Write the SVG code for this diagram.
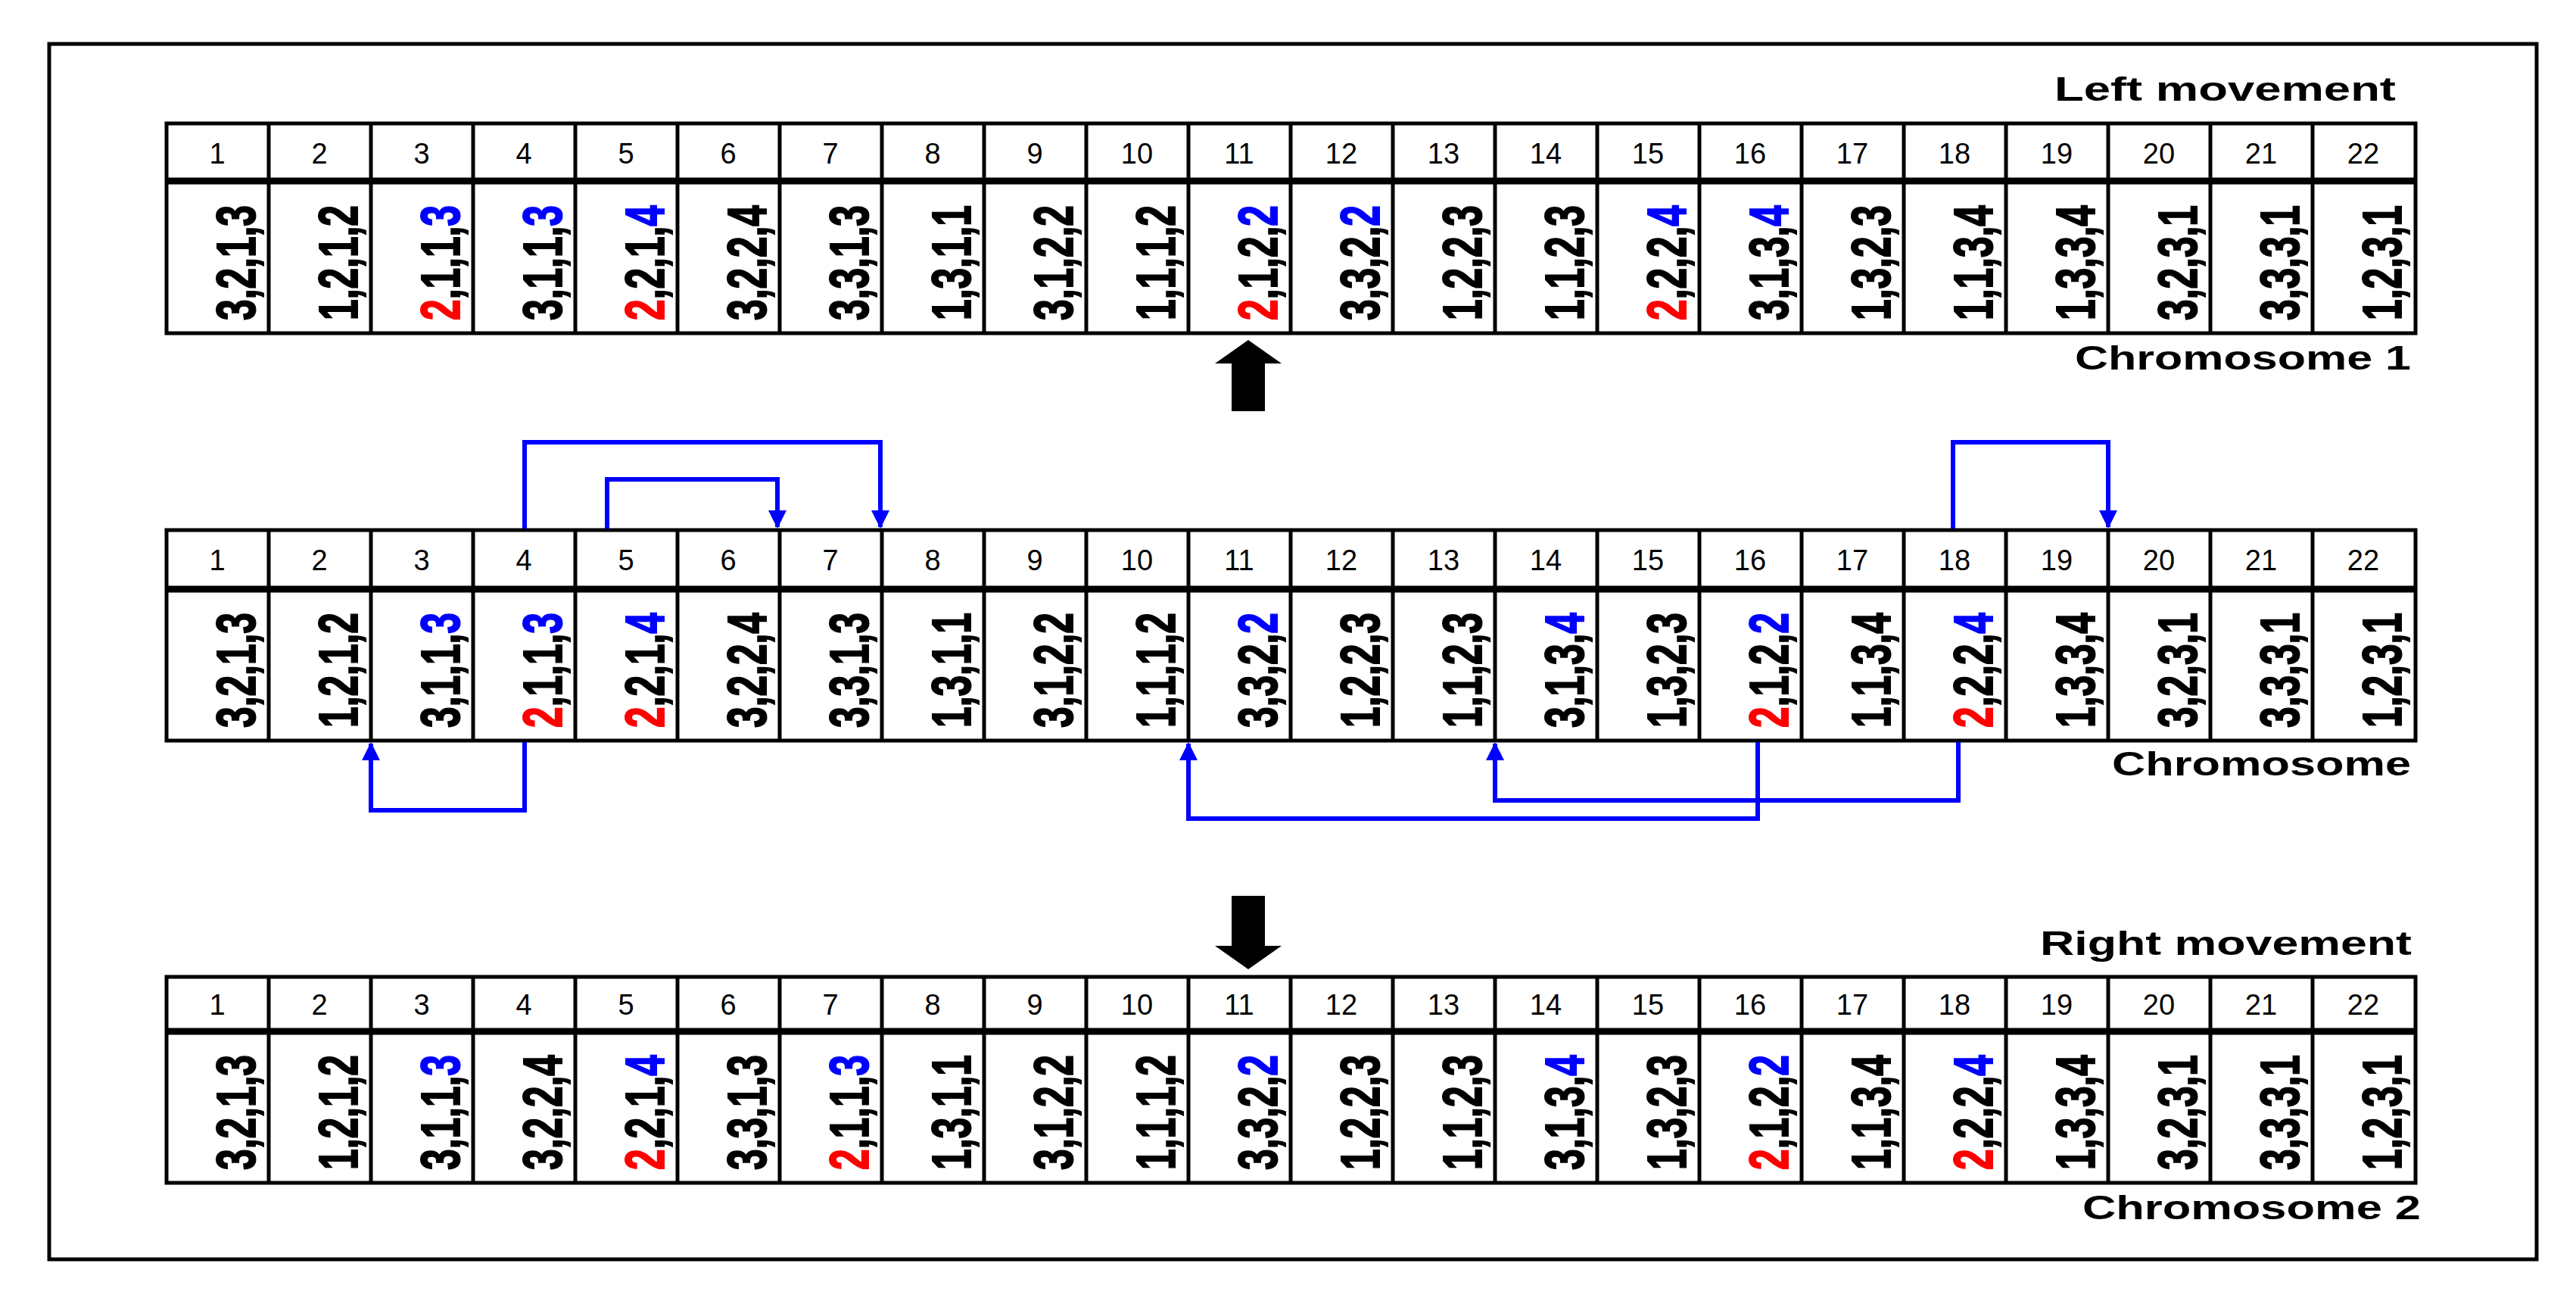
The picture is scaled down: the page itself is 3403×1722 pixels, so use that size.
<svg xmlns="http://www.w3.org/2000/svg" width="3403" height="1722" viewBox="0 0 3403 1722">
<style>
.g{fill:none;stroke:#000;stroke-width:5}
.sep{stroke:#000;stroke-width:9}
.h{font-family:"Liberation Sans Narrow","Liberation Sans",sans-serif;font-size:38px;text-anchor:middle;fill:#000}
.v{font-family:"Liberation Sans",sans-serif;font-weight:bold;font-size:72px;fill:#000;stroke:#000;stroke-width:2}
.r{fill:#ff0000;stroke:#ff0000}.b{fill:#0000ff;stroke:#0000ff}
.lb{font-family:"Liberation Sans",sans-serif;font-weight:bold;font-size:44px;text-anchor:end;fill:#000}
.c{fill:none;stroke:#0000ff;stroke-width:6}
</style>
<defs>
<marker id="ah" markerUnits="userSpaceOnUse" markerWidth="24" markerHeight="24" viewBox="0 0 24 24" refX="22" refY="12" orient="auto"><path d="M0,0 L24,12 L0,24 Z" fill="#0000ff"/></marker>
</defs>
<rect x="65" y="58" width="3286" height="1605" fill="#fff" stroke="#000" stroke-width="5"/>
<g id="chromosome1">
<text class="lb" x="3165" y="133" textLength="451" lengthAdjust="spacingAndGlyphs">Left movement</text>
<text class="lb" x="3185" y="488" textLength="444" lengthAdjust="spacingAndGlyphs">Chromosome 1</text>
</g>
<g id="chromosome">
<text class="lb" x="3185" y="1024" textLength="395" lengthAdjust="spacingAndGlyphs">Chromosome</text>
</g>
<g id="chromosome2">
<text class="lb" x="3186" y="1261" textLength="491" lengthAdjust="spacingAndGlyphs">Right movement</text>
<text class="lb" x="3198" y="1610" textLength="447" lengthAdjust="spacingAndGlyphs">Chromosome 2</text>
</g>
<g id="t1">
<rect class="g" x="220" y="163" width="2971" height="277"/><line class="sep" x1="220" y1="239" x2="3191" y2="239"/>
<path class="g" d="M355,163V440M490,163V440M625,163V440M760,163V440M895,163V440M1030,163V440M1165,163V440M1300,163V440M1435,163V440M1570,163V440M1705,163V440M1840,163V440M1975,163V440M2110,163V440M2245,163V440M2380,163V440M2515,163V440M2650,163V440M2785,163V440M2920,163V440M3055,163V440"/>
</g>
<g id="t2">
<rect class="g" x="220" y="700" width="2971" height="278"/><line class="sep" x1="220" y1="778" x2="3191" y2="778"/>
<path class="g" d="M355,700V978M490,700V978M625,700V978M760,700V978M895,700V978M1030,700V978M1165,700V978M1300,700V978M1435,700V978M1570,700V978M1705,700V978M1840,700V978M1975,700V978M2110,700V978M2245,700V978M2380,700V978M2515,700V978M2650,700V978M2785,700V978M2920,700V978M3055,700V978"/>
</g>
<g id="t3">
<rect class="g" x="220" y="1290" width="2971" height="272"/><line class="sep" x1="220" y1="1362" x2="3191" y2="1362"/>
<path class="g" d="M355,1290V1562M490,1290V1562M625,1290V1562M760,1290V1562M895,1290V1562M1030,1290V1562M1165,1290V1562M1300,1290V1562M1435,1290V1562M1570,1290V1562M1705,1290V1562M1840,1290V1562M1975,1290V1562M2110,1290V1562M2245,1290V1562M2380,1290V1562M2515,1290V1562M2650,1290V1562M2785,1290V1562M2920,1290V1562M3055,1290V1562"/>
</g>
<g id="headers">
<text class="h" y="216"><tspan x="287">1</tspan><tspan x="422">2</tspan><tspan x="557">3</tspan><tspan x="692">4</tspan><tspan x="827">5</tspan><tspan x="962">6</tspan><tspan x="1097">7</tspan><tspan x="1232">8</tspan><tspan x="1367">9</tspan><tspan x="1502">10</tspan><tspan x="1637">11</tspan><tspan x="1772">12</tspan><tspan x="1907">13</tspan><tspan x="2042">14</tspan><tspan x="2177">15</tspan><tspan x="2312">16</tspan><tspan x="2447">17</tspan><tspan x="2582">18</tspan><tspan x="2717">19</tspan><tspan x="2852">20</tspan><tspan x="2987">21</tspan><tspan x="3122">22</tspan></text>
<text class="h" y="753"><tspan x="287">1</tspan><tspan x="422">2</tspan><tspan x="557">3</tspan><tspan x="692">4</tspan><tspan x="827">5</tspan><tspan x="962">6</tspan><tspan x="1097">7</tspan><tspan x="1232">8</tspan><tspan x="1367">9</tspan><tspan x="1502">10</tspan><tspan x="1637">11</tspan><tspan x="1772">12</tspan><tspan x="1907">13</tspan><tspan x="2042">14</tspan><tspan x="2177">15</tspan><tspan x="2312">16</tspan><tspan x="2447">17</tspan><tspan x="2582">18</tspan><tspan x="2717">19</tspan><tspan x="2852">20</tspan><tspan x="2987">21</tspan><tspan x="3122">22</tspan></text>
<text class="h" y="1340"><tspan x="287">1</tspan><tspan x="422">2</tspan><tspan x="557">3</tspan><tspan x="692">4</tspan><tspan x="827">5</tspan><tspan x="962">6</tspan><tspan x="1097">7</tspan><tspan x="1232">8</tspan><tspan x="1367">9</tspan><tspan x="1502">10</tspan><tspan x="1637">11</tspan><tspan x="1772">12</tspan><tspan x="1907">13</tspan><tspan x="2042">14</tspan><tspan x="2177">15</tspan><tspan x="2312">16</tspan><tspan x="2447">17</tspan><tspan x="2582">18</tspan><tspan x="2717">19</tspan><tspan x="2852">20</tspan><tspan x="2987">21</tspan><tspan x="3122">22</tspan></text>
</g>
<g id="values1">
<text class="v" transform="translate(337,423) rotate(-90)" textLength="152" lengthAdjust="spacingAndGlyphs">3,2,1,3</text>
<text class="v" transform="translate(472,423) rotate(-90)" textLength="152" lengthAdjust="spacingAndGlyphs">1,2,1,2</text>
<text class="v" transform="translate(607,423) rotate(-90)" textLength="152" lengthAdjust="spacingAndGlyphs"><tspan class="r">2</tspan>,1,1,<tspan class="b">3</tspan></text>
<text class="v" transform="translate(742,423) rotate(-90)" textLength="152" lengthAdjust="spacingAndGlyphs">3,1,1,<tspan class="b">3</tspan></text>
<text class="v" transform="translate(877,423) rotate(-90)" textLength="152" lengthAdjust="spacingAndGlyphs"><tspan class="r">2</tspan>,2,1,<tspan class="b">4</tspan></text>
<text class="v" transform="translate(1012,423) rotate(-90)" textLength="152" lengthAdjust="spacingAndGlyphs">3,2,2,4</text>
<text class="v" transform="translate(1147,423) rotate(-90)" textLength="152" lengthAdjust="spacingAndGlyphs">3,3,1,3</text>
<text class="v" transform="translate(1282,423) rotate(-90)" textLength="152" lengthAdjust="spacingAndGlyphs">1,3,1,1</text>
<text class="v" transform="translate(1417,423) rotate(-90)" textLength="152" lengthAdjust="spacingAndGlyphs">3,1,2,2</text>
<text class="v" transform="translate(1552,423) rotate(-90)" textLength="152" lengthAdjust="spacingAndGlyphs">1,1,1,2</text>
<text class="v" transform="translate(1687,423) rotate(-90)" textLength="152" lengthAdjust="spacingAndGlyphs"><tspan class="r">2</tspan>,1,2,<tspan class="b">2</tspan></text>
<text class="v" transform="translate(1822,423) rotate(-90)" textLength="152" lengthAdjust="spacingAndGlyphs">3,3,2,<tspan class="b">2</tspan></text>
<text class="v" transform="translate(1957,423) rotate(-90)" textLength="152" lengthAdjust="spacingAndGlyphs">1,2,2,3</text>
<text class="v" transform="translate(2092,423) rotate(-90)" textLength="152" lengthAdjust="spacingAndGlyphs">1,1,2,3</text>
<text class="v" transform="translate(2227,423) rotate(-90)" textLength="152" lengthAdjust="spacingAndGlyphs"><tspan class="r">2</tspan>,2,2,<tspan class="b">4</tspan></text>
<text class="v" transform="translate(2362,423) rotate(-90)" textLength="152" lengthAdjust="spacingAndGlyphs">3,1,3,<tspan class="b">4</tspan></text>
<text class="v" transform="translate(2497,423) rotate(-90)" textLength="152" lengthAdjust="spacingAndGlyphs">1,3,2,3</text>
<text class="v" transform="translate(2632,423) rotate(-90)" textLength="152" lengthAdjust="spacingAndGlyphs">1,1,3,4</text>
<text class="v" transform="translate(2767,423) rotate(-90)" textLength="152" lengthAdjust="spacingAndGlyphs">1,3,3,4</text>
<text class="v" transform="translate(2902,423) rotate(-90)" textLength="152" lengthAdjust="spacingAndGlyphs">3,2,3,1</text>
<text class="v" transform="translate(3037,423) rotate(-90)" textLength="152" lengthAdjust="spacingAndGlyphs">3,3,3,1</text>
<text class="v" transform="translate(3172,423) rotate(-90)" textLength="152" lengthAdjust="spacingAndGlyphs">1,2,3,1</text>
</g>
<g id="values2">
<text class="v" transform="translate(337,961) rotate(-90)" textLength="152" lengthAdjust="spacingAndGlyphs">3,2,1,3</text>
<text class="v" transform="translate(472,961) rotate(-90)" textLength="152" lengthAdjust="spacingAndGlyphs">1,2,1,2</text>
<text class="v" transform="translate(607,961) rotate(-90)" textLength="152" lengthAdjust="spacingAndGlyphs">3,1,1,<tspan class="b">3</tspan></text>
<text class="v" transform="translate(742,961) rotate(-90)" textLength="152" lengthAdjust="spacingAndGlyphs"><tspan class="r">2</tspan>,1,1,<tspan class="b">3</tspan></text>
<text class="v" transform="translate(877,961) rotate(-90)" textLength="152" lengthAdjust="spacingAndGlyphs"><tspan class="r">2</tspan>,2,1,<tspan class="b">4</tspan></text>
<text class="v" transform="translate(1012,961) rotate(-90)" textLength="152" lengthAdjust="spacingAndGlyphs">3,2,2,4</text>
<text class="v" transform="translate(1147,961) rotate(-90)" textLength="152" lengthAdjust="spacingAndGlyphs">3,3,1,3</text>
<text class="v" transform="translate(1282,961) rotate(-90)" textLength="152" lengthAdjust="spacingAndGlyphs">1,3,1,1</text>
<text class="v" transform="translate(1417,961) rotate(-90)" textLength="152" lengthAdjust="spacingAndGlyphs">3,1,2,2</text>
<text class="v" transform="translate(1552,961) rotate(-90)" textLength="152" lengthAdjust="spacingAndGlyphs">1,1,1,2</text>
<text class="v" transform="translate(1687,961) rotate(-90)" textLength="152" lengthAdjust="spacingAndGlyphs">3,3,2,<tspan class="b">2</tspan></text>
<text class="v" transform="translate(1822,961) rotate(-90)" textLength="152" lengthAdjust="spacingAndGlyphs">1,2,2,3</text>
<text class="v" transform="translate(1957,961) rotate(-90)" textLength="152" lengthAdjust="spacingAndGlyphs">1,1,2,3</text>
<text class="v" transform="translate(2092,961) rotate(-90)" textLength="152" lengthAdjust="spacingAndGlyphs">3,1,3,<tspan class="b">4</tspan></text>
<text class="v" transform="translate(2227,961) rotate(-90)" textLength="152" lengthAdjust="spacingAndGlyphs">1,3,2,3</text>
<text class="v" transform="translate(2362,961) rotate(-90)" textLength="152" lengthAdjust="spacingAndGlyphs"><tspan class="r">2</tspan>,1,2,<tspan class="b">2</tspan></text>
<text class="v" transform="translate(2497,961) rotate(-90)" textLength="152" lengthAdjust="spacingAndGlyphs">1,1,3,4</text>
<text class="v" transform="translate(2632,961) rotate(-90)" textLength="152" lengthAdjust="spacingAndGlyphs"><tspan class="r">2</tspan>,2,2,<tspan class="b">4</tspan></text>
<text class="v" transform="translate(2767,961) rotate(-90)" textLength="152" lengthAdjust="spacingAndGlyphs">1,3,3,4</text>
<text class="v" transform="translate(2902,961) rotate(-90)" textLength="152" lengthAdjust="spacingAndGlyphs">3,2,3,1</text>
<text class="v" transform="translate(3037,961) rotate(-90)" textLength="152" lengthAdjust="spacingAndGlyphs">3,3,3,1</text>
<text class="v" transform="translate(3172,961) rotate(-90)" textLength="152" lengthAdjust="spacingAndGlyphs">1,2,3,1</text>
</g>
<g id="values3">
<text class="v" transform="translate(337,1545) rotate(-90)" textLength="152" lengthAdjust="spacingAndGlyphs">3,2,1,3</text>
<text class="v" transform="translate(472,1545) rotate(-90)" textLength="152" lengthAdjust="spacingAndGlyphs">1,2,1,2</text>
<text class="v" transform="translate(607,1545) rotate(-90)" textLength="152" lengthAdjust="spacingAndGlyphs">3,1,1,<tspan class="b">3</tspan></text>
<text class="v" transform="translate(742,1545) rotate(-90)" textLength="152" lengthAdjust="spacingAndGlyphs">3,2,2,4</text>
<text class="v" transform="translate(877,1545) rotate(-90)" textLength="152" lengthAdjust="spacingAndGlyphs"><tspan class="r">2</tspan>,2,1,<tspan class="b">4</tspan></text>
<text class="v" transform="translate(1012,1545) rotate(-90)" textLength="152" lengthAdjust="spacingAndGlyphs">3,3,1,3</text>
<text class="v" transform="translate(1147,1545) rotate(-90)" textLength="152" lengthAdjust="spacingAndGlyphs"><tspan class="r">2</tspan>,1,1,<tspan class="b">3</tspan></text>
<text class="v" transform="translate(1282,1545) rotate(-90)" textLength="152" lengthAdjust="spacingAndGlyphs">1,3,1,1</text>
<text class="v" transform="translate(1417,1545) rotate(-90)" textLength="152" lengthAdjust="spacingAndGlyphs">3,1,2,2</text>
<text class="v" transform="translate(1552,1545) rotate(-90)" textLength="152" lengthAdjust="spacingAndGlyphs">1,1,1,2</text>
<text class="v" transform="translate(1687,1545) rotate(-90)" textLength="152" lengthAdjust="spacingAndGlyphs">3,3,2,<tspan class="b">2</tspan></text>
<text class="v" transform="translate(1822,1545) rotate(-90)" textLength="152" lengthAdjust="spacingAndGlyphs">1,2,2,3</text>
<text class="v" transform="translate(1957,1545) rotate(-90)" textLength="152" lengthAdjust="spacingAndGlyphs">1,1,2,3</text>
<text class="v" transform="translate(2092,1545) rotate(-90)" textLength="152" lengthAdjust="spacingAndGlyphs">3,1,3,<tspan class="b">4</tspan></text>
<text class="v" transform="translate(2227,1545) rotate(-90)" textLength="152" lengthAdjust="spacingAndGlyphs">1,3,2,3</text>
<text class="v" transform="translate(2362,1545) rotate(-90)" textLength="152" lengthAdjust="spacingAndGlyphs"><tspan class="r">2</tspan>,1,2,<tspan class="b">2</tspan></text>
<text class="v" transform="translate(2497,1545) rotate(-90)" textLength="152" lengthAdjust="spacingAndGlyphs">1,1,3,4</text>
<text class="v" transform="translate(2632,1545) rotate(-90)" textLength="152" lengthAdjust="spacingAndGlyphs"><tspan class="r">2</tspan>,2,2,<tspan class="b">4</tspan></text>
<text class="v" transform="translate(2767,1545) rotate(-90)" textLength="152" lengthAdjust="spacingAndGlyphs">1,3,3,4</text>
<text class="v" transform="translate(2902,1545) rotate(-90)" textLength="152" lengthAdjust="spacingAndGlyphs">3,2,3,1</text>
<text class="v" transform="translate(3037,1545) rotate(-90)" textLength="152" lengthAdjust="spacingAndGlyphs">3,3,3,1</text>
<text class="v" transform="translate(3172,1545) rotate(-90)" textLength="152" lengthAdjust="spacingAndGlyphs">1,2,3,1</text>
</g>
<g id="connectors">
<path class="c" d="M693,698 V584 H1163 V696" marker-end="url(#ah)"/>
<path class="c" d="M802,698 V633 H1027 V696" marker-end="url(#ah)"/>
<path class="c" d="M2580,698 V584 H2785 V696" marker-end="url(#ah)"/>
<path class="c" d="M693,980 V1070 H490 V982" marker-end="url(#ah)"/>
<path class="c" d="M2322,980 V1081 H1570 V982" marker-end="url(#ah)"/>
<path class="c" d="M2587,980 V1057 H1975 V982" marker-end="url(#ah)"/>
<path d="M1649,449 L1693,480 L1671,480 L1671,543 L1627,543 L1627,480 L1605,480 Z" fill="#000"/>
<path d="M1649,1280 L1693,1249 L1671,1249 L1671,1183 L1627,1183 L1627,1249 L1605,1249 Z" fill="#000"/>
</g>
</svg>
